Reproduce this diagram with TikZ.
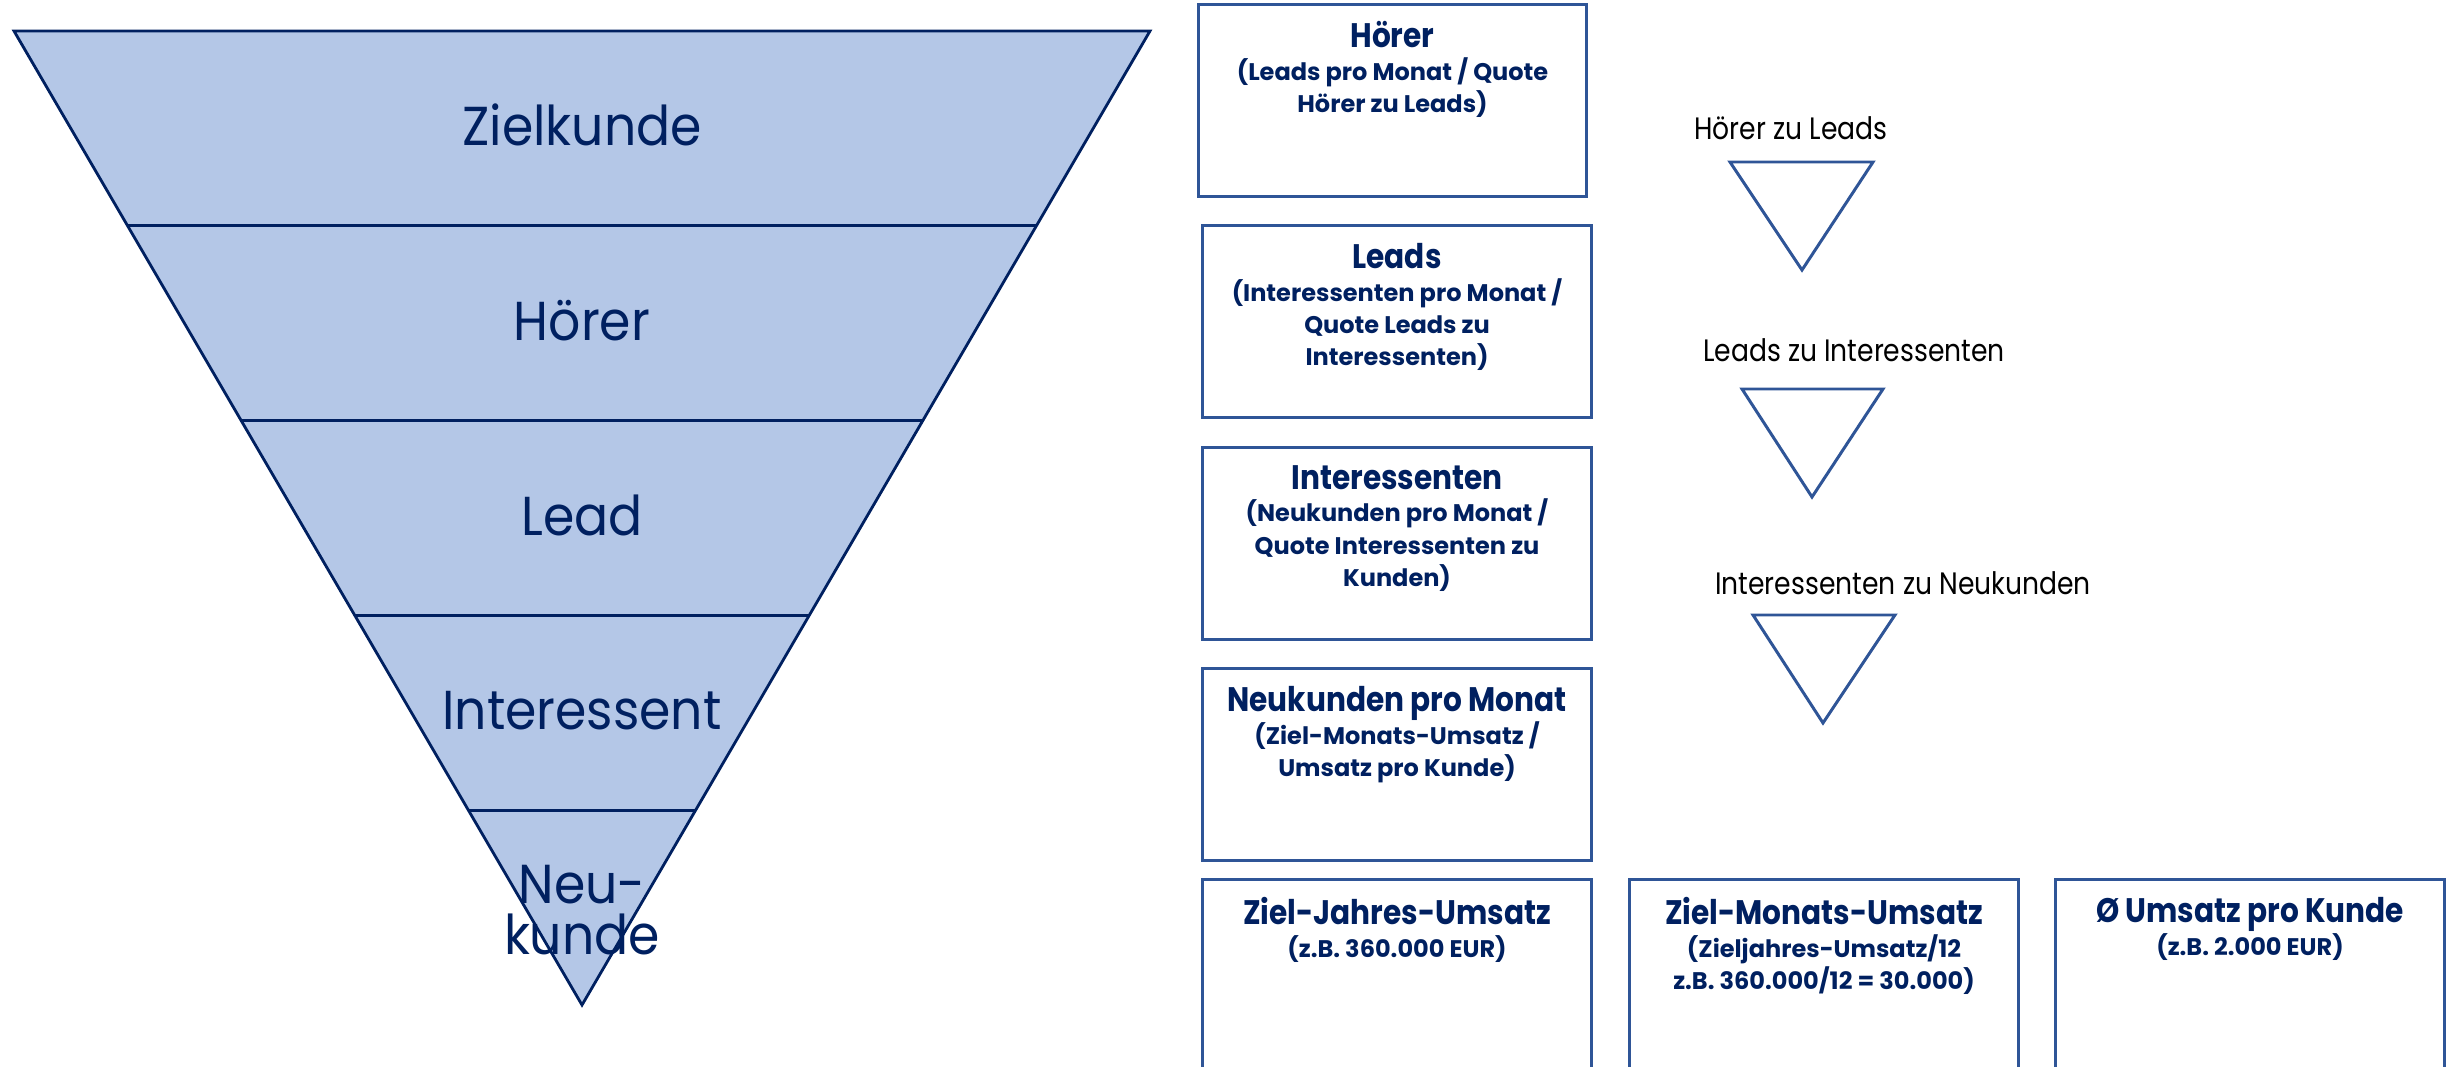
\documentclass[tikz,border=0pt]{standalone}
\usepackage{fontspec}
\setmainfont{Poppins}
\newfontfamily\titelfont{Poppins}[FakeStretch=0.87]
\newfontfamily\stufenfont{Poppins}[FakeStretch=0.92]
\newfontfamily\quotefont{Poppins}[FakeStretch=0.86]
\usetikzlibrary{positioning,calc}
\definecolor{trichter}{HTML}{B4C7E7}
\definecolor{navy}{HTML}{002060}
\definecolor{rahmen}{HTML}{2F5597}
\newcommand{\titel}[1]{{\titelfont\bfseries\fontsize{9.67}{9.3}\selectfont #1}}
\tikzset{
  stufe/.style={font=\stufenfont\fontsize{15.6}{14.6}\selectfont, text=navy, anchor=base, inner sep=0pt, align=center},
  kasten/.style={draw=rahmen, line width=0.85pt, minimum width=3.88cm, minimum height=1.91cm, inner sep=0pt},
  kastentext/.style={text=navy, font=\bfseries\fontsize{6.83}{9.2}\selectfont, align=center, anchor=north, inner sep=0pt},
  quote/.style={font=\quotefont\fontsize{8.8}{10}\selectfont, anchor=base, inner sep=0pt},
  pfeil/.style={draw=rahmen, line width=0.85pt}
}
\begin{document}
\begin{tikzpicture}[x=0.01cm, y=-0.01cm]
  \useasboundingbox (0,0) rectangle (2458,1067);
  \clip (0,0) rectangle (2458,1067);
  % Trichter
  \coordinate (ol) at (14,31);
  \coordinate (or) at (1150,31);
  \coordinate (spitze) at (582,1005);
  \draw[fill=trichter, draw=navy, line width=0.8pt] (ol) -- (or) -- (spitze) -- cycle;
  \draw[navy, line width=0.8pt] ($(ol)!0.2!(spitze)$) -- ($(or)!0.2!(spitze)$);
  \draw[navy, line width=0.8pt] ($(ol)!0.4!(spitze)$) -- ($(or)!0.4!(spitze)$);
  \draw[navy, line width=0.8pt] ($(ol)!0.6!(spitze)$) -- ($(or)!0.6!(spitze)$);
  \draw[navy, line width=0.8pt] ($(ol)!0.8!(spitze)$) -- ($(or)!0.8!(spitze)$);
  \node[stufe] (zielkunde) at (582,146) {Zielkunde};
  \node[stufe] (hoerer) at (582,341) {Hörer};
  \node[stufe] (lead) at (582,535) {Lead};
  \node[stufe] (interessent) at (582,729) {Interessent};
  \node[stufe, anchor=north] (neukunde) at (582,864) {Neu-\\kunde};
  % Kaesten rechts
  \node[kasten] (k-hoerer) at (1392.5,100.5) {};
  \node[kastentext] (t-hoerer) at (1392.5,21) {\titel{Hörer}\\(Leads pro Monat / Quote\\Hörer zu Leads)};
  \node[kasten] (k-leads) at (1397,321.5) {};
  \node[kastentext] (t-leads) at (1397,243) {\titel{Leads}\\(Interessenten pro Monat /\\Quote Leads zu\\Interessenten)};
  \node[kasten] (k-interessenten) at (1397,543.5) {};
  \node[kastentext] (t-interessenten) at (1397,465) {\titel{Interessenten}\\(Neukunden pro Monat /\\Quote Interessenten zu\\Kunden)};
  \node[kasten] (k-neukunden) at (1397,764.5) {};
  \node[kastentext] (t-neukunden) at (1397,686) {\titel{Neukunden pro Monat}\\(Ziel-Monats-Umsatz /\\Umsatz pro Kunde)};
  % untere Reihe
  \node[kasten, minimum height=3cm] (k-jahr) at (1397,1030) {};
  \node[kastentext] (t-jahr) at (1397,897) {\titel{Ziel-Jahres-Umsatz}\\(z.B. 360.000 EUR)};
  \node[kasten, minimum height=3cm] (k-monat) at (1824,1030) {};
  \node[kastentext] (t-monat) at (1824,897) {\titel{Ziel-Monats-Umsatz}\\(Zieljahres-Umsatz/12\\z.B. 360.000/12 = 30.000)};
  \node[kasten, minimum height=3cm] (k-kunde) at (2250,1030) {};
  \node[kastentext] (t-kunde) at (2250,897) {\titel{Ø Umsatz pro Kunde}\\(z.B. 2.000 EUR)};
  % Quoten
  \node[quote] (q-leads) at (1791,140) {Hörer zu Leads};
  \draw[pfeil] (1730,162) -- (1873,162) -- (1802,270) -- cycle;
  \node[quote] (q-interessenten) at (1854,362) {Leads zu Interessenten};
  \draw[pfeil] (1742,389) -- (1883,389) -- (1812,497) -- cycle;
  \node[quote] (q-neukunden) at (1903,594) {Interessenten zu Neukunden};
  \draw[pfeil] (1753,615) -- (1895,615) -- (1823,723) -- cycle;
\end{tikzpicture}
\end{document}
